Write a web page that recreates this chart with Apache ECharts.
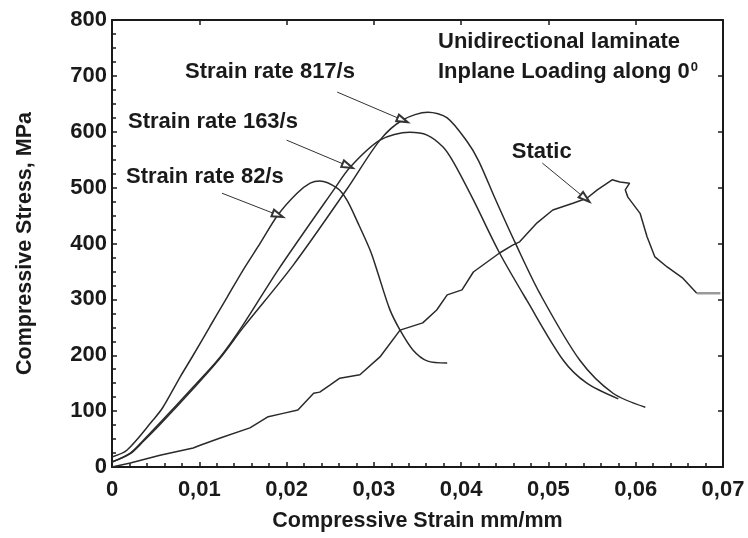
<!DOCTYPE html>
<html>
<head>
<meta charset="utf-8">
<script src="https://cdn.jsdelivr.net/npm/echarts@6/dist/echarts.min.js"></script>
<style>
html,body{margin:0;padding:0;background:#fff;}
#chart{width:748px;height:538px;}
</style>
</head>
<body>
<div id="chart"></div>
<script>
// ---- data (strain mm/mm, stress MPa) ----
var rate82 = [[0,18],[0.0017,30],[0.0047,84],[0.0058,106],[0.0078,161],[0.0093,200],[0.0112,251],[0.0132,304],[0.0150,352],[0.0170,401],[0.0190,451],[0.0212,490],[0.0227,508],[0.0238,512],[0.0258,499],[0.0269,478],[0.0282,436],[0.0296,387],[0.0304,350],[0.0318,283],[0.0330,245],[0.0345,209],[0.0361,190],[0.0384,186]];
var rate163 = [[0,9],[0.0021,25],[0.0036,48],[0.0055,79],[0.0093,143],[0.0124,197],[0.0150,254],[0.0190,352],[0.0254,496],[0.0273,537],[0.0307,585],[0.0341,599],[0.0361,594],[0.0379,573],[0.0391,546],[0.0414,478],[0.0444,383],[0.0475,299],[0.0517,191],[0.0544,150],[0.0580,122]];
var rate817 = [[0,9],[0.0021,24],[0.0036,46],[0.0055,76],[0.0093,140],[0.0124,195],[0.0150,249],[0.0207,360],[0.0269,497],[0.0307,585],[0.0333,621],[0.0362,635],[0.0384,625],[0.0407,582],[0.0420,548],[0.0439,480],[0.0462,401],[0.0490,311],[0.0536,191],[0.0574,132],[0.0611,107]];
var staticLoad = [[0,0],[0.0021,7],[0.0055,21],[0.0093,34],[0.0101,39],[0.0124,52],[0.0158,70],[0.0179,90],[0.0196,96],[0.0213,102],[0.0231,132],[0.0238,134],[0.0250,147],[0.0261,159],[0.0284,165],[0.0307,197],[0.0330,245],[0.0356,258],[0.0372,281],[0.0384,308],[0.0401,317],[0.0414,349],[0.0444,383],[0.0459,397],[0.0467,403],[0.0487,437],[0.0505,460],[0.0528,472],[0.0544,481],[0.0556,496],[0.0573,514],[0.0582,510],[0.0593,508],[0.0588,496],[0.0591,483],[0.0605,454],[0.0613,412],[0.0622,376],[0.0636,358],[0.0654,338],[0.0670,311]];
var staticTail = [[0.0670,311],[0.0697,311]];

// annotation texts and their anchor (left edge, vertical centre) in data units
var noteTexts = ['Strain rate 817/s','Strain rate 163/s','Strain rate 82/s','Static','Unidirectional laminate','Inplane Loading along 0{sup|0}'];
var noteAnchors = [[0.00836,707],[0.00183,617],[0.0016,519],[0.0458,564],[0.03735,760],[0.03735,707]];
// arrows: from -> to, in data units
var arrowFrom = [[0.0258,671],[0.0200,585],[0.0126,490],[0.0493,544]];
var arrowTo   = [[0.0333,621],[0.0270,539],[0.0190,451],[0.0542,481]];

var xTicks = {min:0, max:0.07, interval:0.01};
var yTicks = {min:0, max:800, interval:100};

var FONT = 'Liberation Sans, Arial, sans-serif';
var INK = '#1a1a1a';
var LINE = '#2a2a2a';

var chart = echarts.init(document.getElementById('chart'));

function lineSeries(name, data, extra){
  var s = {
    name: name, type:'line', data:data, showSymbol:false, symbol:'none',
    smooth:0.3, clip:true,
    lineStyle:{color:LINE, width:1.5}, z:3
  };
  for (var k in extra) s[k] = extra[k];
  return s;
}

var option = {
  animation:false,
  backgroundColor:'#fff',
  grid:{left:112, right:25, top:20, bottom:71, containLabel:false},
  xAxis:[{
    type:'value', position:'bottom', min:xTicks.min, max:xTicks.max, interval:xTicks.interval,
    name:'Compressive Strain mm/mm', nameLocation:'middle', nameGap:43,
    nameTextStyle:{fontFamily:FONT, fontWeight:'bold', fontSize:21.5, color:INK},
    axisLine:{show:true, onZero:false, lineStyle:{color:INK, width:2}},
    axisTick:{show:true, inside:true, length:5, lineStyle:{color:INK, width:1.5}},
    minorTick:{show:true, splitNumber:5, length:4, lineStyle:{color:INK, width:1.5}},
    splitLine:{show:false},
    axisLabel:{fontFamily:FONT, fontWeight:'bold', fontSize:22, color:INK, margin:12,
      formatter:function(v){ return v===0 ? '0' : v.toFixed(2).replace('.', ','); }}
  },{
    type:'value', position:'top', min:xTicks.min, max:xTicks.max, interval:xTicks.interval,
    axisLine:{show:true, onZero:false, lineStyle:{color:INK, width:2}},
    axisTick:{show:true, inside:true, length:5, lineStyle:{color:INK, width:1.5}},
    axisLabel:{show:false}, splitLine:{show:false}
  }],
  yAxis:[{
    type:'value', position:'left', min:yTicks.min, max:yTicks.max, interval:yTicks.interval,
    name:'Compressive Stress, MPa', nameLocation:'middle', nameGap:76,
    nameTextStyle:{fontFamily:FONT, fontWeight:'bold', fontSize:21.5, color:INK},
    axisLine:{show:true, onZero:false, lineStyle:{color:INK, width:2}},
    axisTick:{show:true, inside:true, length:5, lineStyle:{color:INK, width:1.5}},
    minorTick:{show:true, splitNumber:4, length:4, lineStyle:{color:INK, width:1.5}},
    splitLine:{show:false},
    axisLabel:{fontFamily:FONT, fontWeight:'bold', fontSize:22, color:INK, margin:5}
  },{
    type:'value', position:'right', min:yTicks.min, max:yTicks.max, interval:yTicks.interval,
    axisLine:{show:true, onZero:false, lineStyle:{color:INK, width:2}},
    axisTick:{show:true, inside:true, length:5, lineStyle:{color:INK, width:1.5}},
    axisLabel:{show:false}, splitLine:{show:false}
  }],
  series:[
    lineSeries('Strain rate 82/s', rate82, {
      markLine:{
        silent:true, symbol:['none','emptyTriangle'], symbolSize:[7,11],
        lineStyle:{color:'#333', width:1, type:'solid'}, label:{show:false},
        data: arrowFrom.map(function(f,i){ return [{coord:f},{coord:arrowTo[i]}]; })
      },
      markPoint:{
        silent:true, symbol:'circle', symbolSize:0,
        label:{show:true, position:'right', distance:0, fontFamily:FONT, fontWeight:'bold', fontSize:22, color:INK,
          formatter:function(p){ return p.name; },
          rich:{sup:{fontFamily:FONT, fontWeight:'bold', fontSize:13, color:INK, verticalAlign:'top', padding:[0,0,10,1]}}},
        data: noteTexts.map(function(t,i){ return {name:t, coord:noteAnchors[i]}; })
      }
    }),
    lineSeries('Strain rate 163/s', rate163, {}),
    lineSeries('Strain rate 817/s', rate817, {}),
    lineSeries('Static', staticLoad, {smooth:false, lineStyle:{color:LINE, width:1.5}}),
    lineSeries('Static tail', staticTail, {smooth:false, lineStyle:{color:'#9a9a9a', width:2.5}})
  ]
};
chart.setOption(option);
</script>
</body>
</html>
